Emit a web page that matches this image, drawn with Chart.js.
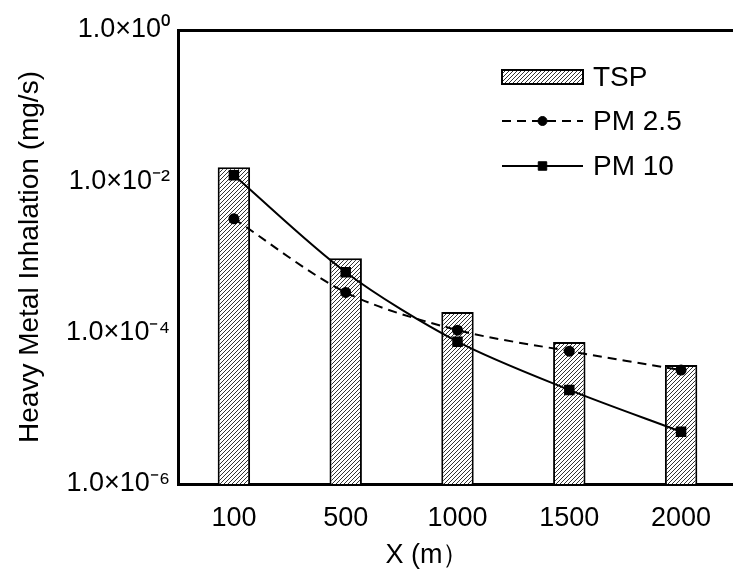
<!DOCTYPE html>
<html>
<head>
<meta charset="utf-8">
<script src="https://cdn.jsdelivr.net/npm/chart.js@4"></script>
<style>
  html, body { margin: 0; padding: 0; background: #fff; overflow: hidden; }
  canvas { display: block; }
</style>
</head>
<body>
<canvas id="chart" width="745" height="572"></canvas>
<script>
const categories = ["100", "500", "1000", "1500", "2000"];
const tspValues = [1.53e-2, 9.6e-4, 1.87e-4, 7.5e-5, 3.75e-5];
const pm25Values = [3.2e-3, 3.4e-4, 1.08e-4, 5.7e-5, 3.2e-5];
const pm10Values = [1.2e-2, 6.3e-4, 7.6e-5, 1.75e-5, 4.9e-6];
const yTickValues = [1e-6, 1e-4, 1e-2, 1];

const FONT = '"Liberation Sans", Arial, sans-serif';
Chart.defaults.color = "#000";
Chart.defaults.font.family = FONT;

const superDigits = { "-": "\u207B", "0": "\u2070", "1": "\u00B9", "2": "\u00B2", "3": "\u00B3",
  "4": "\u2074", "5": "\u2075", "6": "\u2076", "7": "\u2077", "8": "\u2078", "9": "\u2079" };

function sciLabel(v) {
  const exp = String(Math.round(Math.log10(v)));
  return "1.0\u00D710" + exp.split("").map(c => superDigits[c]).join("");
}

// diagonal hatch for the TSP bars
function makeHatch() {
  const c = document.createElement("canvas");
  c.width = 4; c.height = 4;
  const g = c.getContext("2d");
  g.fillStyle = "#fff";
  g.fillRect(0, 0, 4, 4);
  g.strokeStyle = "#333";
  g.lineWidth = 1;
  g.beginPath();
  g.moveTo(0, 4); g.lineTo(4, 0);
  g.moveTo(-1, 1); g.lineTo(1, -1);
  g.moveTo(3, 5); g.lineTo(5, 3);
  g.stroke();
  return g.createPattern(c, "repeat");
}
const hatch = makeHatch();

const legendPlugin = {
  id: "sideLegend",
  afterDraw(chart) {
    const ctx = chart.ctx;
    const ds = chart.data.datasets;
    const x0 = 502, x1 = 583, tx = 593;
    const rows = [77, 121, 166];
    ctx.save();
    ctx.font = "28px " + FONT;
    ctx.textBaseline = "middle";
    ctx.textAlign = "left";

    // TSP box
    ctx.fillStyle = hatch;
    ctx.fillRect(x0, rows[0] - 7, x1 - x0, 14);
    ctx.strokeStyle = "#000";
    ctx.lineWidth = 2;
    ctx.strokeRect(x0, rows[0] - 7, x1 - x0, 14);

    // line samples
    [1, 2].forEach((i, k) => {
      const d = ds[i];
      const y = rows[k + 1];
      ctx.strokeStyle = "#000";
      ctx.fillStyle = "#000";
      ctx.lineWidth = d.borderWidth;
      ctx.setLineDash(d.borderDash || []);
      ctx.beginPath();
      ctx.moveTo(x0, y);
      ctx.lineTo(x1, y);
      ctx.stroke();
      ctx.setLineDash([]);
      ctx.lineWidth = 1;
      Chart.helpers.drawPoint(ctx, {
        pointStyle: d.pointStyle, radius: d.pointRadius, borderWidth: 1, rotation: 0
      }, (x0 + x1) / 2, y);
    });

    ctx.fillStyle = "#000";
    ds.forEach((d, i) => ctx.fillText(d.label, tx, rows[i] + 1));
    ctx.restore();
  }
};

new Chart(document.getElementById("chart"), {
  data: {
    labels: categories,
    datasets: [
      {
        type: "bar",
        label: "TSP",
        data: tspValues,
        backgroundColor: hatch,
        borderColor: "#000",
        borderWidth: 2,
        barPercentage: 0.29,
        categoryPercentage: 1,
        order: 3
      },
      {
        type: "line",
        label: "PM 2.5",
        data: pm25Values,
        borderColor: "#000",
        backgroundColor: "#000",
        borderWidth: 2,
        borderDash: [9, 6],
        pointStyle: "circle",
        pointRadius: 4.5,
        tension: 0.3,
        order: 2
      },
      {
        type: "line",
        label: "PM 10",
        data: pm10Values,
        borderColor: "#000",
        backgroundColor: "#000",
        borderWidth: 2,
        pointStyle: "rect",
        pointRadius: 6,
        tension: 0.3,
        order: 1
      }
    ]
  },
  options: {
    responsive: false,
    animation: false,
    layout: { padding: { left: 0, right: 6, top: 0, bottom: 0 } },
    plugins: { legend: { display: false }, tooltip: { enabled: false } },
    scales: {
      x: {
        position: "bottom",
        grid: { display: false, drawTicks: false },
        border: { color: "#000", width: 3 },
        ticks: { font: { size: 27 }, padding: 18 },
        // trailing spaces pull the centred title left, as in the source figure
        title: { display: true, text: "X (m\uFF09        ", font: { size: 27 }, padding: { top: 0, bottom: 0 } },
        afterFit: s => { s.height = 88; }
      },
      xTop: {
        type: "category",
        position: "top",
        grid: { display: false, drawTicks: false },
        border: { color: "#000", width: 3 },
        ticks: { display: false },
        afterFit: s => { s.height = 30; }
      },
      y: {
        type: "logarithmic",
        min: 1e-6,
        max: 1,
        grid: { display: false, drawTicks: false },
        border: { color: "#000", width: 3 },
        afterBuildTicks: s => { s.ticks = yTickValues.map(v => ({ value: v })); },
        ticks: { font: { size: 27 }, padding: 8, callback: v => sciLabel(v) },
        title: { display: true, text: "Heavy Metal Inhalation (mg/s)", font: { size: 28 }, padding: { top: 13, bottom: 0 } },
        afterFit: s => { s.width = 178; }
      }
    }
  },
  plugins: [legendPlugin]
});
</script>
</body>
</html>
